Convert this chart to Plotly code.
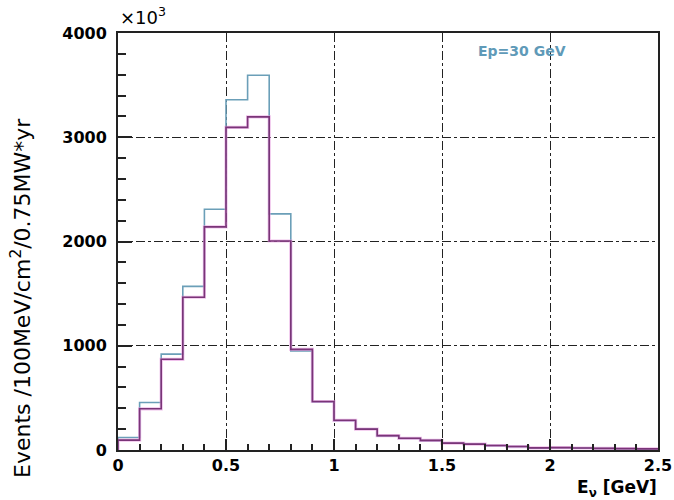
import plotly.graph_objects as go

# bin edges (GeV), 0.1 GeV bins from 0 to 2.5
bin_edges = [round(i * 0.1, 1) for i in range(26)]

# Events (units of 10^3) per bin
blue_vals = [120, 455, 920, 1570, 2310, 3360, 3595, 2265, 950, 460,
             280, 200, 135, 110, 90, 65, 55, 42, 32, 18,
             22, 18, 15, 12, 10]
purple_vals = [95, 395, 870, 1465, 2140, 3095, 3195, 2005, 965, 465,
               285, 200, 138, 112, 92, 66, 56, 43, 33, 20,
               23, 19, 16, 13, 11]

x_ticks = [0, 0.5, 1, 1.5, 2, 2.5]
x_tick_text = ["0", "0.5", "1", "1.5", "2", "2.5"]
y_ticks = [0, 1000, 2000, 3000, 4000]
y_tick_text = ["0", "1000", "2000", "3000", "4000"]


def step_xy(edges, vals):
    xs = [edges[0]] + list(edges[:-1]) + [edges[-1]]
    ys = [0] + list(vals) + [vals[-1]]
    return xs, ys


fig = go.Figure()
bx, by = step_xy(bin_edges, blue_vals)
px_, py_ = step_xy(bin_edges, purple_vals)
fig.add_trace(go.Scatter(x=bx, y=by, mode="lines", line_shape="hv",
                         line=dict(color="#6b9fb8", width=1.6), showlegend=False))
fig.add_trace(go.Scatter(x=px_, y=py_, mode="lines", line_shape="hv",
                         line=dict(color="#e79be0", width=3.2), opacity=0.6, showlegend=False))
fig.add_trace(go.Scatter(x=px_, y=py_, mode="lines", line_shape="hv",
                         line=dict(color="#7a3578", width=1.6), showlegend=False))

FONT = "Liberation Sans, Arial, sans-serif"
BFONT = "DejaVu Sans, sans-serif"
tickfont = dict(family=BFONT, size=16, color="black")

L, R, T, B = 118, 16, 33, 50

fig.update_layout(
    width=674, height=500,
    margin=dict(l=L, r=R, t=T, b=B),
    plot_bgcolor="white", paper_bgcolor="white",
    font=dict(family=FONT),
    xaxis=dict(range=[0, 2.5], tickvals=x_ticks, ticktext=["<b>%s</b>" % t for t in x_tick_text],
               automargin=False,
               ticks="inside", ticklen=11, tickwidth=1.5, tickcolor="#222",
               minor=dict(ticks="inside", ticklen=6, dtick=0.1, tick0=0, tickcolor="#222", showgrid=False),
               showline=True, linecolor="#222", linewidth=2, mirror=True,
               showgrid=True, gridcolor="#222", griddash="dashdot", gridwidth=1.2,
               zeroline=False, tickfont=tickfont, ticklabelstandoff=0),
    yaxis=dict(range=[0, 4000], tickvals=y_ticks, ticktext=["<b>%s</b>" % t for t in y_tick_text],
               automargin=False,
               ticks="inside", ticklen=14, tickwidth=1.5, tickcolor="#222",
               minor=dict(ticks="inside", ticklen=8, dtick=200, tick0=0, tickcolor="#222", showgrid=False),
               showline=True, linecolor="#222", linewidth=2, mirror=True,
               showgrid=True, gridcolor="#222", griddash="dashdot", gridwidth=1.2,
               zeroline=False, tickfont=tickfont, ticklabelstandoff=6),
)

W = 674 - L - R
H = 500 - T - B


def px2paper(x, y):
    return (x - L) / W, (500 - B - y) / H


ax, ay = px2paper(118, 30)
fig.add_annotation(xref="paper", yref="paper", x=ax, y=ay, xanchor="left", yanchor="bottom",
                   text="×10<sup>3</sup>", showarrow=False,
                   font=dict(size=18, color="black", family=BFONT))
ax, ay = px2paper(522, 51)
fig.add_annotation(xref="paper", yref="paper", x=ax, y=ay, xanchor="center", yanchor="middle",
                   text="<b>Ep=30 GeV</b>", showarrow=False,
                   font=dict(size=14, color="#5f9ab8", family=BFONT))
ax, ay = px2paper(659, 475)
fig.add_annotation(xref="paper", yref="paper", x=ax, y=ay, xanchor="right", yanchor="top",
                   text="<b>E<sub>ν</sub> [GeV]</b>", showarrow=False,
                   font=dict(size=17, color="black", family=BFONT))
ax, ay = px2paper(21, 298)
fig.add_annotation(xref="paper", yref="paper", x=ax, y=ay, xanchor="center", yanchor="middle",
                   text="Events /100MeV/cm<sup>2</sup>/0.75MW*yr", textangle=-90, showarrow=False,
                   font=dict(size=22, color="black", family=BFONT))

fig.write_html("out.html")
